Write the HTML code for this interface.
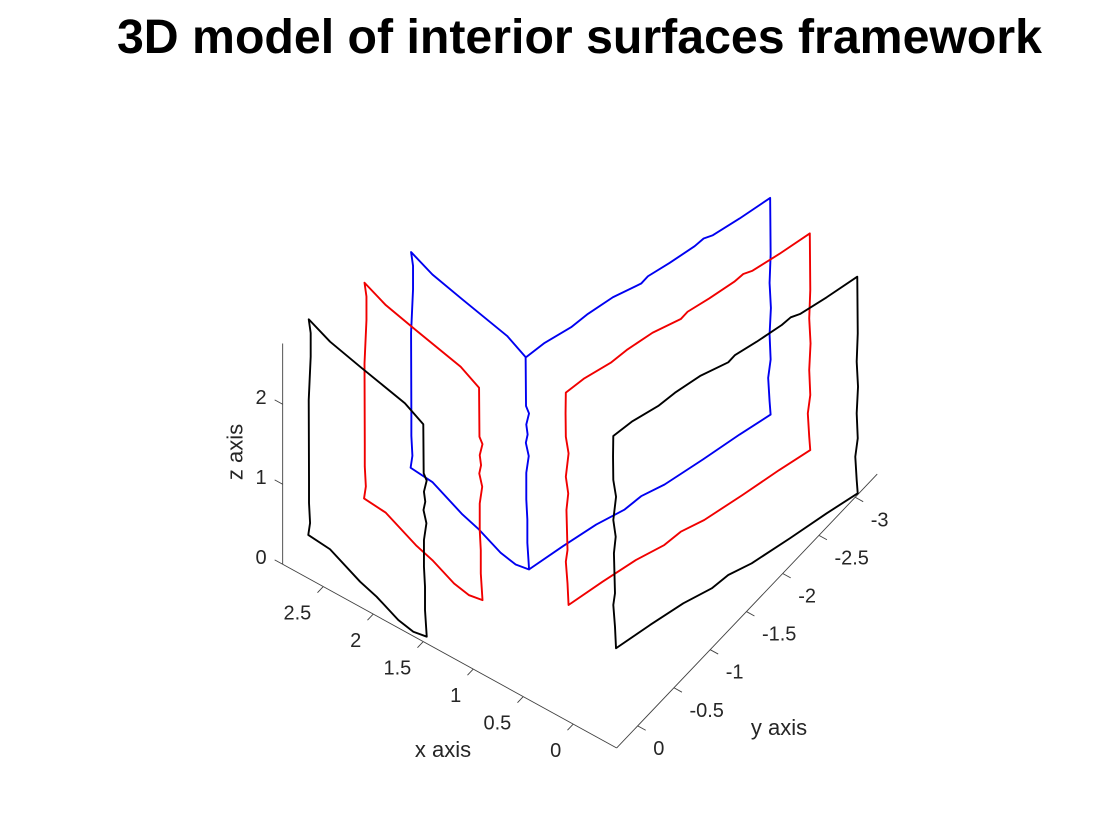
<!DOCTYPE html>
<html lang="en">
<head>
<meta charset="utf-8">
<title>3D model of interior surfaces framework</title>
<style>
html,body{margin:0;padding:0;background:#fff;}
svg{display:block;}
text{font-family:"Liberation Sans",Arial,sans-serif;fill:#262626;}
</style>
</head>
<body>
<svg id="chart" width="1120" height="840" viewBox="0 0 1120 840" xmlns="http://www.w3.org/2000/svg">
  <rect x="0" y="0" width="1120" height="840" fill="#ffffff"/>
  <text x="579.5" y="53" text-anchor="middle" font-size="48.25" font-weight="700" style="fill:#000">3D model of interior surfaces framework</text>
  <g id="axes"></g>
  <g id="series"></g>
  <text x="443" y="757" text-anchor="middle" font-size="22">x axis</text>
  <text x="779" y="735" text-anchor="middle" font-size="22">y axis</text>
  <text transform="translate(242.5 452) rotate(-90)" text-anchor="middle" font-size="22">z axis</text>
</svg>
<script>
const xTicks = [0, 0.5, 1, 1.5, 2, 2.5];
const xTickLabels = ['0', '0.5', '1', '1.5', '2', '2.5'];
const yTicks = [0, -0.5, -1, -1.5, -2, -2.5, -3];
const yTickLabels = ['0', '-0.5', '-1', '-1.5', '-2', '-2.5', '-3'];
const zTicks = [0, 1, 2];
const zTickLabels = ['0', '1', '2'];
const xLimits = [-0.434, 2.906];
const yLimits = [-3.304, 0.29];
const zLimits = [0, 2.76];

const leftWallZ = [2.68,2.68,2.68,2.68,2.68,2.065,1.973,1.835,1.71,1.606,1.44,1.231,0.898,0.648,0.356,0.02,0.02,0.02,0.02,0.02,0.02,0.02,0.15,0.4,0.688,1.688,2.229,2.525,2.68];
const rightWallZ = [2.68,2.68,2.68,2.68,2.68,2.68,2.68,2.68,2.68,2.68,2.68,2.68,2.68,1.996,1.641,1.329,0.996,0.684,0.454,0.163,0.02,0.02,0.02,0.02,0.02,0.02,0.02,0.02,0.02,0.291,0.563,0.709,1.209,1.416,1.625,1.916,2.125,2.416,2.68];

const blueLeftX = [2.674,2.394,2.041,1.518,1.266,1.265,1.245,1.263,1.254,1.266,1.247,1.263,1.263,1.256,1.256,1.246,1.365,1.537,1.825,2.027,2.427,2.659,2.657,2.664,2.664,2.666,2.653,2.653,2.674];
const blueLeftY = [-1.161,-1.069,-0.996,-0.893,-0.799,-0.803,-0.817,-0.804,-0.81,-0.802,-0.816,-0.804,-0.804,-0.809,-0.809,-0.819,-0.798,-0.828,-0.926,-0.977,-1.114,-1.134,-1.156,-1.151,-1.151,-1.15,-1.159,-1.159,-1.161];
const blueRightX = [1.262,1.23,1.154,1.127,1.067,0.967,0.968,0.909,0.849,0.838,0.798,0.727,0.655,0.64,0.647,0.638,0.647,0.64,0.656,0.647,0.628,0.707,0.792,0.887,0.968,0.993,1.086,1.169,1.247];
const blueRightY = [-0.801,-1.011,-1.272,-1.466,-1.728,-1.98,-2.075,-2.292,-2.555,-2.664,-2.736,-3.007,-3.329,-3.315,-3.31,-3.316,-3.31,-3.315,-3.303,-3.31,-3.298,-2.979,-2.59,-2.193,-1.981,-1.788,-1.524,-1.18,-0.818];

const redLeftX = [2.788,2.508,2.155,1.632,1.38,1.379,1.359,1.377,1.368,1.38,1.361,1.377,1.377,1.37,1.37,1.36,1.479,1.651,1.939,2.141,2.541,2.773,2.771,2.778,2.778,2.78,2.767,2.767,2.788];
const redLeftY = [-0.676,-0.584,-0.511,-0.408,-0.314,-0.318,-0.332,-0.319,-0.325,-0.317,-0.331,-0.319,-0.319,-0.324,-0.324,-0.334,-0.313,-0.343,-0.441,-0.492,-0.629,-0.649,-0.671,-0.666,-0.666,-0.665,-0.674,-0.674,-0.676];
const redRightX = [0.78,0.748,0.672,0.645,0.585,0.485,0.486,0.427,0.367,0.356,0.316,0.245,0.173,0.158,0.165,0.156,0.165,0.158,0.174,0.165,0.146,0.225,0.31,0.405,0.486,0.511,0.604,0.687,0.765,0.771,0.782,0.771,0.778,0.766,0.782,0.764,0.782,0.784,0.78];
const redRightY = [-0.683,-0.893,-1.154,-1.348,-1.61,-1.862,-1.957,-2.174,-2.437,-2.546,-2.618,-2.889,-3.211,-3.197,-3.192,-3.198,-3.192,-3.197,-3.185,-3.192,-3.18,-2.861,-2.472,-2.075,-1.863,-1.67,-1.406,-1.062,-0.7,-0.694,-0.686,-0.694,-0.689,-0.697,-0.686,-0.699,-0.686,-0.685,-0.683];

const blackLeftX = [2.926,2.646,2.293,1.77,1.518,1.517,1.497,1.515,1.506,1.518,1.499,1.515,1.515,1.508,1.508,1.498,1.617,1.789,2.077,2.279,2.679,2.911,2.909,2.916,2.916,2.918,2.905,2.905,2.926];
const blackLeftY = [-0.097,-0.005,0.068,0.171,0.265,0.261,0.247,0.26,0.254,0.262,0.248,0.26,0.26,0.255,0.255,0.245,0.266,0.236,0.138,0.087,-0.05,-0.07,-0.092,-0.087,-0.087,-0.086,-0.095,-0.095,-0.097];
const blackRightX = [0.198,0.166,0.09,0.063,0.003,-0.097,-0.096,-0.155,-0.215,-0.226,-0.266,-0.337,-0.409,-0.424,-0.417,-0.426,-0.417,-0.424,-0.408,-0.417,-0.436,-0.357,-0.272,-0.177,-0.096,-0.071,0.022,0.105,0.183,0.189,0.2,0.189,0.196,0.184,0.2,0.182,0.2,0.202,0.198];
const blackRightY = [-0.535,-0.745,-1.006,-1.2,-1.462,-1.714,-1.809,-2.026,-2.289,-2.398,-2.47,-2.741,-3.063,-3.049,-3.044,-3.05,-3.044,-3.049,-3.037,-3.044,-3.032,-2.713,-2.324,-1.927,-1.715,-1.522,-1.258,-0.914,-0.552,-0.546,-0.538,-0.546,-0.541,-0.549,-0.538,-0.551,-0.538,-0.537,-0.535];

const SVG_NS = 'http://www.w3.org/2000/svg';

function projX(x, y) { return 594.3 - 100 * x - 72.5 * y; }
function projY(x, y, z) { return 702 - 55 * x + 76.2 * y - 80 * z; }

const axesGroup = document.getElementById('axes');
const seriesGroup = document.getElementById('series');

function drawSegment(x1, y1, x2, y2, name) {
  const el = document.createElementNS(SVG_NS, 'line');
  el.setAttribute('x1', x1.toFixed(2));
  el.setAttribute('y1', y1.toFixed(2));
  el.setAttribute('x2', x2.toFixed(2));
  el.setAttribute('y2', y2.toFixed(2));
  el.setAttribute('stroke', '#404040');
  el.setAttribute('stroke-width', '0.9');
  
  
  axesGroup.appendChild(el);
}

function drawLabel(x, y, content, anchor, name) {
  const el = document.createElementNS(SVG_NS, 'text');
  el.setAttribute('x', x.toFixed(2));
  el.setAttribute('y', y.toFixed(2));
  el.setAttribute('text-anchor', anchor);
  el.setAttribute('font-size', '20');
  
  
  el.textContent = content;
  axesGroup.appendChild(el);
}

const cornerX = xLimits[0];
const cornerY = yLimits[1];
const tickLenData = 0.08;

drawSegment(projX(xLimits[0], cornerY), projY(xLimits[0], cornerY, 0), projX(xLimits[1], cornerY), projY(xLimits[1], cornerY, 0), 'x-axis-line');
drawSegment(projX(cornerX, yLimits[1]), projY(cornerX, yLimits[1], 0), projX(cornerX, yLimits[0]), projY(cornerX, yLimits[0], 0), 'y-axis-line');
drawSegment(projX(xLimits[1], cornerY), projY(xLimits[1], cornerY, zLimits[0]), projX(xLimits[1], cornerY), projY(xLimits[1], cornerY, zLimits[1]), 'z-axis-line');

xTicks.forEach(function (v, i) {
  const bx = projX(v, cornerY);
  const by = projY(v, cornerY, 0);
  drawSegment(bx, by, projX(v, cornerY + tickLenData), projY(v, cornerY + tickLenData, 0), 'x-tick');
  drawLabel(bx - 12, by + 33, xTickLabels[i], 'end', 'x-tick-label');
});

yTicks.forEach(function (v, i) {
  const bx = projX(cornerX, v);
  const by = projY(cornerX, v, 0);
  drawSegment(bx, by, projX(cornerX - tickLenData, v), projY(cornerX - tickLenData, v, 0), 'y-tick');
  drawLabel(bx + 15.5, by + 29, yTickLabels[i], 'start', 'y-tick-label');
});

zTicks.forEach(function (v, i) {
  const bx = projX(xLimits[1], cornerY);
  const by = projY(xLimits[1], cornerY, v);
  drawSegment(bx, by, projX(xLimits[1] + tickLenData, cornerY), projY(xLimits[1] + tickLenData, cornerY, v), 'z-tick');
  drawLabel(bx - 16, by - 0.5, zTickLabels[i], 'end', 'z-tick-label');
});

function drawOutline(xs, ys, zs, color, closed, name) {
  let d = '';
  xs.forEach(function (x, i) {
    d += (i === 0 ? 'M' : 'L') + projX(x, ys[i]).toFixed(2) + ' ' + projY(x, ys[i], zs[i]).toFixed(2);
  });
  const el = document.createElementNS(SVG_NS, 'path');
  el.setAttribute('d', closed ? d + 'Z' : d);
  el.setAttribute('fill', 'none');
  el.setAttribute('stroke', color);
  el.setAttribute('stroke-width', '1.9');
  el.setAttribute('stroke-linejoin', 'round');
  
  
  seriesGroup.appendChild(el);
}

drawOutline(blueLeftX, blueLeftY, leftWallZ, '#0000f0', true, 'blue-left-surface');
drawOutline(blueRightX, blueRightY, rightWallZ, '#0000f0', false, 'blue-right-surface');
drawOutline(redLeftX, redLeftY, leftWallZ, '#f00000', true, 'red-left-surface');
drawOutline(redRightX, redRightY, rightWallZ, '#f00000', true, 'red-right-surface');
drawOutline(blackLeftX, blackLeftY, leftWallZ, '#000000', true, 'black-left-surface');
drawOutline(blackRightX, blackRightY, rightWallZ, '#000000', true, 'black-right-surface');
</script>
</body>
</html>
